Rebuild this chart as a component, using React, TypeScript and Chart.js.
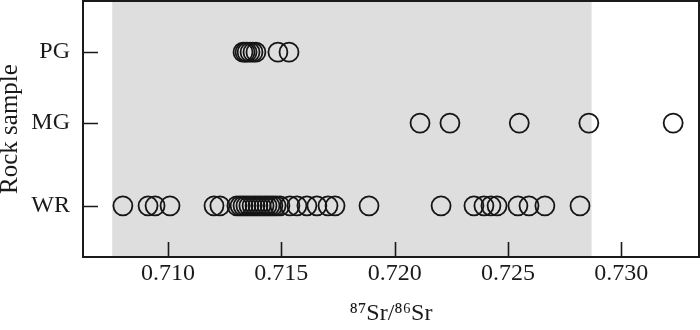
import React, { useEffect, useRef } from "react";
import { Chart, registerables } from "chart.js";

Chart.register(...registerables);

const categories = ["WR", "MG", "PG"];
const categoryY = [2, 5.23, 8];
const xTicks = [0.71, 0.715, 0.72, 0.725, 0.73];
const xRange = [0.70625, 0.73343];
const shadeRange = [0.70754, 0.72869];

const wrValues = [
  0.70801, 0.70912, 0.70943, 0.71009, 0.71203, 0.71229, 0.71304, 0.71318,
  0.71331, 0.71344, 0.71357, 0.71371, 0.71384, 0.71397, 0.7141, 0.71424,
  0.71437, 0.7145, 0.71463, 0.71477, 0.71494, 0.71538, 0.71569, 0.71613,
  0.71657, 0.71706, 0.71737, 0.71887, 0.72205, 0.7235, 0.72394, 0.72425,
  0.72452, 0.72544, 0.72593, 0.72663, 0.72818,
];
const mgValues = [0.72112, 0.72244, 0.7255, 0.72857, 0.73229];
const pgValues = [0.71331, 0.7134, 0.71349, 0.71362, 0.71375, 0.71388, 0.71485, 0.71534];

const FONT = "'Liberation Serif', 'Times New Roman', serif";

const framePlugin = {
  id: "frameAndShade",
  beforeDatasetsDraw(chart: any) {
    const { ctx, chartArea, scales } = chart;
    const x0 = scales.x.getPixelForValue(shadeRange[0]);
    const x1 = scales.x.getPixelForValue(shadeRange[1]);
    ctx.save();
    ctx.fillStyle = "#dedede";
    ctx.fillRect(x0, chartArea.top, x1 - x0, chartArea.bottom - chartArea.top);
    ctx.restore();
  },
  afterDraw(chart: any) {
    const { ctx, chartArea, scales } = chart;
    const { left, right, top, bottom } = chartArea;
    ctx.save();
    ctx.strokeStyle = "#1a1a1a";
    ctx.lineWidth = 2;
    ctx.strokeRect(left, top, right - left, bottom - top);
    ctx.lineWidth = 1.6;
    ctx.beginPath();
    xTicks.forEach((v) => {
      const px = Math.round(scales.x.getPixelForValue(v)) + 0.5;
      ctx.moveTo(px, bottom);
      ctx.lineTo(px, bottom - 15);
    });
    categoryY.forEach((v) => {
      const py = Math.round(scales.y.getPixelForValue(v)) + 0.5;
      ctx.moveTo(left, py);
      ctx.lineTo(left + 15, py);
    });
    ctx.stroke();
    ctx.restore();
  },
};

function makeDataset(values: number[], y: number) {
  return {
    data: values.map((v) => ({ x: v, y })),
    showLine: false,
    pointRadius: 9.5,
    pointHoverRadius: 9.5,
    pointBorderWidth: 1.8,
    pointBorderColor: "#151515",
    pointBackgroundColor: "rgba(0,0,0,0)",
  };
}

function zeroPad(scale: any) {
  scale.paddingTop = 0;
  scale.paddingBottom = 0;
  scale.paddingLeft = 0;
  scale.paddingRight = 0;
}

export default function App() {
  const ref = useRef<HTMLCanvasElement>(null);
  useEffect(() => {
    if (!ref.current) return;
    const chart = new Chart(ref.current, {
      type: "scatter",
      data: {
        datasets: [
          makeDataset(wrValues, categoryY[0]),
          makeDataset(mgValues, categoryY[1]),
          makeDataset(pgValues, categoryY[2]),
        ],
      },
      options: {
        animation: false,
        responsive: false,
        maintainAspectRatio: false,
        layout: { autoPadding: false, padding: { top: 1, right: 1, left: 0, bottom: 0 } },
        plugins: { legend: { display: false }, tooltip: { enabled: false } },
        scales: {
          x: {
            type: "linear",
            min: xRange[0],
            max: xRange[1],
            grid: { display: false, drawTicks: false },
            border: { display: false },
            afterBuildTicks: (scale: any) => {
              scale.ticks = xTicks.map((v) => ({ value: v }));
            },
            afterFit: (scale: any) => {
              scale.height = 73;
              zeroPad(scale);
            },
            ticks: {
              padding: 2,
              color: "#1a1a1a",
              font: { family: FONT, size: 24 },
              callback: (v: any) => Number(v).toFixed(3),
            },
            title: {
              display: true,
              text: "\u2078\u2077Sr/\u2078\u2076Sr",
              color: "#1a1a1a",
              font: { family: FONT, size: 24 },
              padding: { top: 2, bottom: 2 },
            },
          },
          y: {
            type: "linear",
            min: 0,
            max: 10,
            grid: { display: false, drawTicks: false },
            border: { display: false },
            afterBuildTicks: (scale: any) => {
              scale.ticks = categoryY.map((v) => ({ value: v }));
            },
            afterFit: (scale: any) => {
              scale.width = 83;
              zeroPad(scale);
            },
            ticks: {
              padding: 13,
              color: "#1a1a1a",
              font: { family: FONT, size: 24 },
              callback: (v: any) => {
                const i = categoryY.indexOf(Number(v));
                return i >= 0 ? categories[i] : "";
              },
            },
            title: {
              display: true,
              text: "Rock sample",
              color: "#1a1a1a",
              font: { family: FONT, size: 25, lineHeight: 1 },
              padding: { top: -2, bottom: 0 },
            },
          },
        },
      },
      plugins: [framePlugin],
    });
    return () => chart.destroy();
  }, []);
  return (
    <div style={{ position: "fixed", left: 0, top: 0, width: 700, height: 330, background: "#fff" }}>
      <canvas ref={ref} width={700} height={330} style={{ width: 700, height: 330 }} />
    </div>
  );
}
